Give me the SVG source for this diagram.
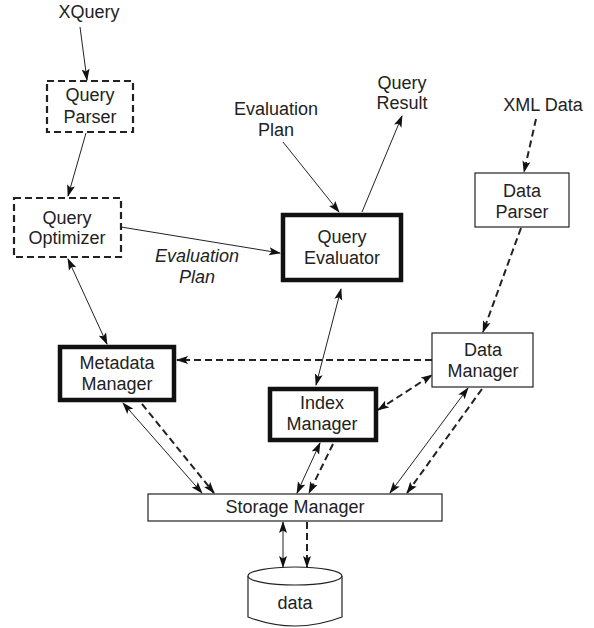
<svg xmlns="http://www.w3.org/2000/svg" width="594" height="628" viewBox="0 0 594 628">
<style>
text{font-family:"Liberation Sans",Arial,sans-serif;font-size:18px;fill:#222;text-anchor:middle}
.it{font-style:italic}
.thin{fill:#fff;stroke:#222;stroke-width:1.2}
.dbox{fill:#fff;stroke:#222;stroke-width:2.2;stroke-dasharray:7,4}
.thick{fill:#fff;stroke:#111;stroke-width:4.5}
.s{fill:none;stroke:#222;stroke-width:1}
.d{fill:none;stroke:#222;stroke-width:2;stroke-dasharray:7,4}
</style>
<defs>
<marker id="ah" markerUnits="userSpaceOnUse" markerWidth="12" markerHeight="9" refX="11" refY="4" orient="auto-start-reverse" viewBox="0 0 12 8">
<path d="M0,0 L12,4 L0,8 L2.5,4 z" fill="#111"/>
</marker>
</defs>
<g id="connectors">
<line class="s" x1="80" y1="27" x2="87" y2="80" marker-end="url(#ah)"/>
<line class="s" x1="86" y1="133" x2="68" y2="196" marker-end="url(#ah)"/>
<line class="s" x1="121" y1="227" x2="280" y2="253" marker-end="url(#ah)"/>
<line class="s" x1="68" y1="259" x2="107" y2="344" marker-start="url(#ah)" marker-end="url(#ah)"/>
<line class="s" x1="283" y1="142" x2="339" y2="212" marker-end="url(#ah)"/>
<line class="s" x1="362" y1="212" x2="402" y2="116" marker-end="url(#ah)"/>
<line class="d" x1="536" y1="119" x2="524" y2="172" marker-end="url(#ah)"/>
<line class="d" x1="521" y1="228" x2="483" y2="332" marker-end="url(#ah)"/>
<line class="d" x1="432" y1="360" x2="177" y2="360" marker-end="url(#ah)"/>
<line class="s" x1="341" y1="289" x2="316" y2="385" marker-start="url(#ah)" marker-end="url(#ah)"/>
<line class="d" x1="378" y1="410" x2="432" y2="375" marker-start="url(#ah)" marker-end="url(#ah)"/>
<line class="s" x1="123" y1="403" x2="202" y2="493" marker-start="url(#ah)" marker-end="url(#ah)"/>
<line class="d" x1="142" y1="404" x2="214" y2="493" marker-end="url(#ah)"/>
<line class="s" x1="320" y1="443" x2="297" y2="493" marker-start="url(#ah)" marker-end="url(#ah)"/>
<line class="d" x1="333" y1="444" x2="309" y2="493" marker-end="url(#ah)"/>
<line class="s" x1="468" y1="388" x2="390" y2="493" marker-start="url(#ah)" marker-end="url(#ah)"/>
<line class="d" x1="482" y1="389" x2="407" y2="493" marker-end="url(#ah)"/>
<line class="s" x1="283" y1="522" x2="283" y2="567" marker-start="url(#ah)" marker-end="url(#ah)"/>
<line class="d" x1="307" y1="522" x2="307" y2="567" marker-end="url(#ah)"/>
</g>
<g id="labels">
<text x="89" y="18">XQuery</text>
<text class="it" x="197" y="262">Evaluation</text>
<text class="it" x="197" y="283">Plan</text>
<text x="276" y="115">Evaluation</text>
<text x="276" y="136">Plan</text>
<text x="402" y="89">Query</text>
<text x="402" y="109">Result</text>
<text x="543" y="111">XML Data</text>
</g>
<g id="query-parser">
<rect class="dbox" x="47" y="81" width="86" height="51"/>
<text x="90" y="101">Query</text>
<text x="90" y="123">Parser</text>
</g>
<g id="query-optimizer">
<rect class="dbox" x="14" y="198" width="107" height="59"/>
<text x="67" y="224">Query</text>
<text x="67" y="244">Optimizer</text>
</g>
<g id="query-evaluator">
<rect class="thick" x="283" y="215" width="118" height="65"/>
<text x="342" y="243">Query</text>
<text x="342" y="264">Evaluator</text>
</g>
<g id="data-parser">
<rect class="thin" x="475" y="173" width="94" height="54"/>
<text x="522" y="197">Data</text>
<text x="522" y="218">Parser</text>
</g>
<g id="metadata-manager">
<rect class="thick" x="60" y="347" width="114" height="53"/>
<text x="117" y="369">Metadata</text>
<text x="117" y="390">Manager</text>
</g>
<g id="data-manager">
<rect class="thin" x="432" y="333" width="101" height="54"/>
<text x="483" y="356">Data</text>
<text x="483" y="377">Manager</text>
</g>
<g id="index-manager">
<rect class="thick" x="270" y="389" width="106" height="51"/>
<text x="322" y="409">Index</text>
<text x="322" y="430">Manager</text>
</g>
<g id="storage-manager">
<rect class="thin" x="148" y="494" width="294" height="27"/>
<text x="295" y="513">Storage Manager</text>
</g>
<g id="data">
<path class="thin" d="M248,576 L248,617 Q295,635 342,617 L342,576"/>
<ellipse class="thin" cx="295" cy="576" rx="47" ry="9"/>
<text x="295" y="609">data</text>
</g>
</svg>
